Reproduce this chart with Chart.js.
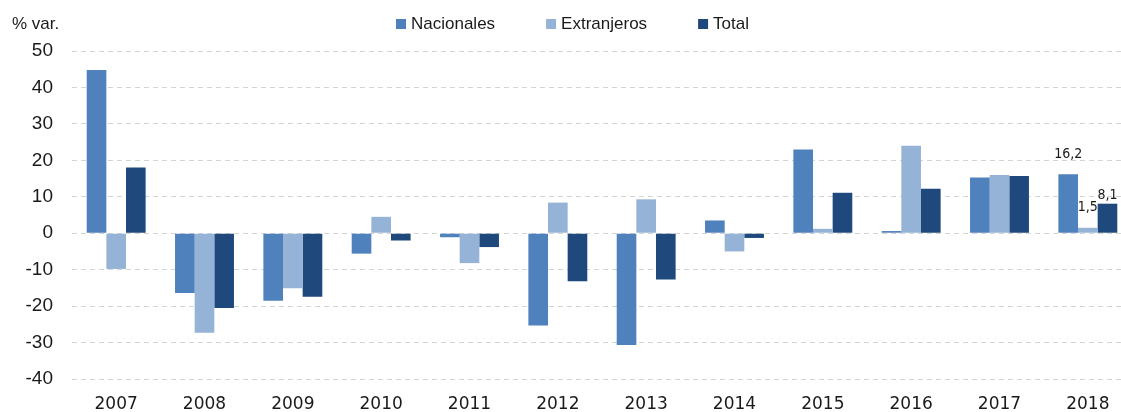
<!DOCTYPE html>
<html>
<head>
<meta charset="utf-8">
<script src="https://cdn.jsdelivr.net/npm/chart.js@4/dist/chart.umd.min.js"></script>
<style>
  html, body { margin: 0; padding: 0; background: #fff; overflow: hidden; }
  #wrap { width: 1121px; height: 412px; overflow: hidden; }
</style>
</head>
<body>
<div id="wrap"><canvas id="chart" width="1132" height="412"></canvas></div>
<script>
// Data
const years = ['2007', '2008', '2009', '2010', '2011', '2012', '2013', '2014', '2015', '2016', '2017', '2018'];
const nacionales = [44.8, -16.4, -18.5, -5.6, -1.1, -25.3, -30.7, 3.5, 23.0, 0.6, 15.3, 16.2];
const extranjeros = [-9.8, -27.3, -15.1, 4.5, -8.2, 8.4, 9.3, -5.0, 1.2, 24.0, 16.0, 1.5];
const total = [18.0, -20.5, -17.4, -2.0, -3.8, -13.2, -12.7, -1.3, 11.1, 12.2, 15.7, 8.1];
const yTicks = [50, 40, 30, 20, 10, 0, -10, -20, -30, -40];

// Labels shown only on the last year
const labelIndex = 11;
const labelOffsets = [20, 20, 8];

const colors = ['#4F81BD', '#95B3D7', '#1F497D'];

// Draws the "% var." caption, the legend and the 2018 value labels
const extrasPlugin = {
    id: 'extras',
    afterDraw(chart) {
        const ctx = chart.ctx;
        ctx.save();
        ctx.fillStyle = '#1a1a1a';
        ctx.font = '17px "Liberation Sans", Arial, sans-serif';
        ctx.textBaseline = 'middle';
        ctx.textAlign = 'left';
        ctx.fillText('% var.', 12, 24);

        // legend
        let x = 396;
        chart.data.datasets.forEach((ds) => {
            ctx.fillStyle = ds.backgroundColor;
            ctx.fillRect(x, 19, 10, 10);
            ctx.fillStyle = '#1a1a1a';
            ctx.fillText(ds.label, x + 15, 24);
            x += 15 + ctx.measureText(ds.label).width + 51;
        });

        // value labels
        ctx.font = '14px "DejaVu Sans Condensed", "DejaVu Sans", sans-serif';
        ctx.textAlign = 'center';
        chart.data.datasets.forEach((ds, i) => {
            const bar = chart.getDatasetMeta(i).data[labelIndex];
            const v = ds.data[labelIndex];
            ctx.fillText(v.toFixed(1).replace('.', ','), bar.x, bar.y - labelOffsets[i]);
        });
        ctx.restore();
    }
};

const chart = new Chart(document.getElementById('chart').getContext('2d'), {
    type: 'bar',
    data: {
        labels: years,
        datasets: [
            { label: 'Nacionales', data: nacionales, backgroundColor: colors[0] },
            { label: 'Extranjeros', data: extranjeros, backgroundColor: colors[1] },
            { label: 'Total', data: total, backgroundColor: colors[2] }
        ]
    },
    options: {
        responsive: false,
        animation: false,
        layout: { padding: { top: 51, right: 0, bottom: 0, left: 0 } },
        datasets: {
            bar: { categoryPercentage: 0.667, barPercentage: 1.0 }
        },
        plugins: {
            legend: { display: false },
            tooltip: { enabled: false }
        },
        scales: {
            x: {
                grid: { display: false, drawTicks: false },
                border: { display: false },
                ticks: {
                    color: '#1a1a1a',
                    padding: 15,
                    font: { family: '"DejaVu Sans", sans-serif', size: 17 }
                },
                afterFit(scale) { scale.height = 33; }
            },
            y: {
                min: -40,
                max: 50,
                afterBuildTicks(scale) { scale.ticks = yTicks.map(v => ({ value: v })); },
                grid: { color: '#D4D4D4', lineWidth: 1, drawTicks: false },
                border: { display: false, dash: [5, 4] },
                ticks: {
                    color: '#1a1a1a',
                    padding: 19,
                    font: { family: '"Liberation Sans", Arial, sans-serif', size: 19 }
                },
                afterFit(scale) { scale.width = 72; }
            }
        }
    },
    plugins: [extrasPlugin]
});
</script>
</body>
</html>
